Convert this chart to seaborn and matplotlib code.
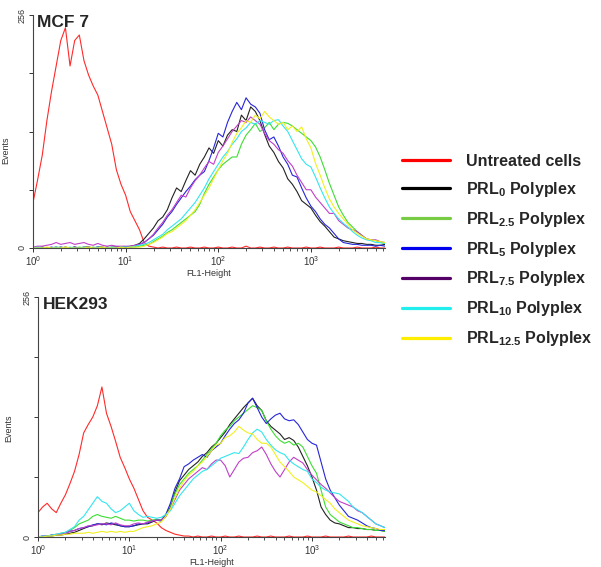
import numpy as np
import pandas as pd
import matplotlib
matplotlib.use("Agg")
import matplotlib.pyplot as plt
import seaborn as sns
from matplotlib.lines import Line2D
from matplotlib.ticker import FixedLocator, LogLocator, NullFormatter

sns.set_style("ticks")
plt.rcParams['font.family'] = ['Liberation Sans', 'DejaVu Sans']
plt.rcParams['mathtext.fontset'] = 'custom'
plt.rcParams['mathtext.rm'] = 'Liberation Sans'
plt.rcParams['mathtext.bf'] = 'Liberation Sans:bold'

# ---- data: log10(FL1-Height) channel positions ----
log_fl1 = [0.00, 0.05, 0.10, 0.15, 0.20, 0.25, 0.30, 0.35, 0.40, 0.45,
           0.50, 0.55, 0.60, 0.65, 0.70, 0.75, 0.80, 0.85, 0.90, 0.95,
           1.00, 1.05, 1.10, 1.15, 1.20, 1.25, 1.30, 1.35, 1.40, 1.45,
           1.50, 1.55, 1.60, 1.65, 1.70, 1.75, 1.80, 1.85, 1.90, 1.95,
           2.00, 2.05, 2.10, 2.15, 2.20, 2.25, 2.30, 2.35, 2.40, 2.45,
           2.50, 2.55, 2.60, 2.65, 2.70, 2.75, 2.80, 2.85, 2.90, 2.95,
           3.00, 3.05, 3.10, 3.15, 3.20, 3.25, 3.30, 3.35, 3.40, 3.45,
           3.50, 3.55, 3.60, 3.65, 3.70, 3.75, 3.80]

series_names = ["Untreated cells", "PRL0", "PRL2.5", "PRL5", "PRL7.5", "PRL10", "PRL12.5"]

# MCF 7 panel (events)
mcf_untreated = [50, 75, 102, 140, 172, 200, 228, 242, 200, 228,
                 234, 206, 190, 178, 168, 150, 132, 114, 86, 70,
                 58, 40, 30, 20, 6, 2, 1, 0, 1, 0,
                 0, 1, 0, 0, 1, 0, 0, 1, 0, 0,
                 1, 0, 0, 1, 0, 0, 2, 0, 0, 1,
                 0, 0, 1, 0, 0, 1, 0, 0, 0, 1,
                 0, 0, 1, 0, 0, 0, 1, 0, 0, 0,
                 1, 0, 0, 0, 1, 0, 0]
mcf_prl0 = [0, 0, 1, 0, 0, 1, 0, 1, 0, 1,
            0, 1, 1, 0, 1, 1, 0, 1, 1, 1,
            1, 2, 3, 5, 10, 16, 22, 30, 34, 42,
            55, 66, 62, 74, 85, 80, 92, 100, 110, 104,
            118, 112, 124, 130, 128, 146, 140, 155, 150, 140,
            125, 112, 105, 95, 88, 76, 70, 62, 52, 48,
            44, 36, 29, 24, 18, 12, 10, 8, 7, 6,
            5, 5, 4, 4, 3, 3, 4]
mcf_prl2_5 = [0, 0, 1, 0, 0, 0, 1, 0, 0, 0,
              1, 0, 0, 1, 0, 0, 1, 0, 0, 1,
              0, 1, 1, 2, 3, 4, 7, 10, 13, 17,
              20, 24, 28, 32, 36, 40, 48, 60, 70, 78,
              86, 92, 96, 100, 100, 114, 124, 130, 137, 128,
              132, 138, 130, 136, 138, 137, 134, 130, 126, 122,
              118, 111, 100, 86, 71, 58, 45, 36, 28, 23,
              18, 14, 10, 9, 8, 6, 5]
mcf_prl5 = [0, 1, 0, 0, 1, 0, 1, 0, 0, 1,
            0, 0, 1, 0, 1, 0, 1, 0, 1, 1,
            1, 1, 2, 4, 6, 10, 14, 20, 26, 34,
            40, 48, 55, 62, 68, 75, 80, 84, 96, 110,
            126, 122, 138, 150, 160, 152, 165, 158, 155, 148,
            130, 119, 122, 112, 100, 92, 80, 78, 66, 55,
            46, 40, 32, 26, 22, 16, 10, 6, 5, 4,
            4, 3, 3, 3, 2, 3, 2]
mcf_prl7_5 = [1, 2, 2, 3, 4, 6, 4, 5, 6, 4,
              5, 6, 4, 3, 5, 3, 2, 3, 2, 2,
              2, 2, 3, 4, 6, 10, 15, 22, 28, 36,
              42, 50, 58, 56, 66, 74, 80, 88, 95, 92,
              105, 112, 120, 128, 134, 140, 138, 144, 140, 136,
              126, 118, 114, 108, 104, 96, 90, 80, 72, 64,
              64, 56, 50, 44, 38, 38, 30, 26, 22, 20,
              18, 14, 10, 9, 9, 7, 6]
mcf_prl10 = [0, 1, 0, 0, 0, 1, 0, 0, 1, 0,
             0, 1, 0, 0, 1, 0, 0, 1, 0, 1,
             1, 1, 2, 3, 4, 6, 9, 12, 15, 20,
             24, 28, 32, 38, 44, 50, 58, 66, 76, 84,
             92, 100, 106, 114, 120, 128, 132, 138, 136, 140,
             138, 136, 140, 141, 134, 128, 118, 108, 98, 92,
             89, 78, 66, 55, 45, 38, 32, 27, 23, 18,
             14, 11, 9, 8, 6, 6, 5]
mcf_prl12_5 = [0, 0, 0, 1, 0, 0, 0, 1, 0, 0,
               0, 0, 1, 0, 0, 1, 0, 0, 0, 1,
               0, 1, 1, 1, 2, 4, 6, 9, 12, 16,
               18, 22, 26, 30, 36, 42, 50, 58, 66, 76,
               86, 96, 104, 116, 126, 132, 140, 138, 146, 142,
               150, 144, 140, 136, 138, 130, 134, 128, 133, 120,
               110, 93, 80, 66, 54, 45, 38, 32, 26, 20,
               16, 13, 10, 9, 8, 7, 6]

# HEK293 panel (events)
hek_untreated = [26, 32, 36, 30, 26, 36, 45, 57, 70, 88,
                 111, 120, 128, 140, 160, 132, 118, 102, 85, 74,
                 62, 52, 40, 28, 21, 18, 15, 10, 7, 5,
                 3, 2, 1, 1, 0, 1, 0, 0, 1, 0,
                 0, 1, 0, 0, 1, 0, 0, 0, 1, 0,
                 0, 1, 0, 0, 0, 1, 0, 0, 0, 1,
                 0, 0, 0, 1, 0, 0, 0, 0, 1, 0,
                 0, 0, 0, 1, 0, 0, 0]
hek_prl0 = [0, 0, 1, 1, 2, 2, 3, 4, 5, 7,
            9, 11, 12, 14, 13, 15, 14, 13, 12, 11,
            11, 12, 13, 14, 14, 16, 18, 17, 22, 32,
            48, 60, 66, 72, 76, 80, 86, 90, 96, 100,
            106, 112, 120, 126, 132, 138, 143, 148, 140, 135,
            124, 118, 114, 110, 104, 106, 103, 96, 86, 76,
            64, 50, 32, 24, 18, 15, 14, 12, 10, 10,
            9, 9, 8, 8, 7, 7, 6]
hek_prl2_5 = [0, 0, 1, 2, 2, 4, 5, 7, 10, 14,
              16, 18, 22, 24, 22, 21, 20, 22, 20, 18,
              18, 17, 18, 18, 17, 18, 19, 18, 24, 34,
              46, 56, 62, 68, 72, 76, 82, 88, 94, 100,
              108, 114, 118, 124, 128, 132, 136, 140, 138, 135,
              124, 115, 108, 103, 100, 102, 98, 100, 96, 86,
              76, 68, 50, 32, 24, 20, 16, 14, 12, 10,
              10, 9, 8, 8, 7, 7, 6]
hek_prl5 = [0, 1, 1, 2, 2, 3, 4, 6, 7, 9,
            10, 11, 13, 14, 14, 13, 15, 14, 12, 11,
            11, 12, 14, 14, 15, 17, 18, 18, 24, 36,
            52, 62, 75, 78, 82, 85, 88, 85, 92, 96,
            100, 108, 115, 121, 125, 132, 143, 148, 138, 128,
            121, 126, 130, 132, 126, 124, 125, 120, 112, 104,
            100, 98, 80, 62, 50, 42, 34, 28, 22, 20,
            18, 15, 12, 10, 9, 7, 7]
hek_prl7_5 = [0, 1, 1, 2, 3, 3, 4, 6, 7, 9,
              10, 12, 12, 13, 14, 14, 13, 15, 13, 12,
              12, 14, 15, 14, 16, 17, 18, 18, 22, 30,
              40, 50, 56, 62, 66, 70, 74, 72, 78, 82,
              82, 76, 64, 72, 80, 84, 85, 90, 92, 96,
              88, 78, 70, 64, 72, 80, 85, 82, 79, 72,
              66, 61, 56, 52, 47, 42, 38, 36, 34, 32,
              28, 26, 22, 18, 14, 12, 10]
hek_prl10 = [0, 1, 1, 2, 3, 4, 5, 8, 11, 18,
             22, 29, 36, 43, 38, 36, 30, 26, 28, 32,
             36, 28, 24, 21, 22, 21, 20, 21, 24, 28,
             36, 44, 50, 56, 62, 66, 70, 72, 76, 80,
             84, 86, 88, 90, 89, 96, 104, 111, 115, 112,
             104, 98, 93, 90, 88, 82, 78, 75, 72, 70,
             62, 58, 53, 50, 48, 47, 46, 42, 38, 32,
             29, 26, 22, 18, 14, 12, 10]
hek_prl12_5 = [0, 0, 1, 1, 2, 2, 3, 3, 4, 4,
               4, 5, 4, 5, 6, 5, 6, 5, 6, 5,
               6, 6, 8, 10, 11, 12, 14, 16, 22, 30,
               42, 52, 60, 66, 70, 76, 80, 86, 92, 98,
               100, 106, 108, 112, 118, 114, 111, 110, 104, 100,
               100, 96, 88, 80, 75, 70, 64, 61, 58, 54,
               50, 48, 44, 40, 36, 30, 26, 22, 18, 16,
               14, 12, 11, 10, 9, 8, 8]

panels = [
    ("MCF 7", [mcf_untreated, mcf_prl0, mcf_prl2_5, mcf_prl5, mcf_prl7_5, mcf_prl10, mcf_prl12_5]),
    ("HEK293", [hek_untreated, hek_prl0, hek_prl2_5, hek_prl5, hek_prl7_5, hek_prl10, hek_prl12_5]),
]

line_colors = ["#ff2a2a", "#222222", "#3ddd33", "#2626d9", "#c040c8", "#33e6ee", "#f0f020"]
legend_colors = ["#ff0000", "#000000", "#77cc44", "#0000ee", "#550066", "#22eeee", "#ffee00"]
legend_labels = ["Untreated cells",
                 r"PRL$_{\mathbf{0}}$ Polyplex",
                 r"PRL$_{\mathbf{2.5}}$ Polyplex",
                 r"PRL$_{\mathbf{5}}$ Polyplex",
                 r"PRL$_{\mathbf{7.5}}$ Polyplex",
                 r"PRL$_{\mathbf{10}}$ Polyplex",
                 r"PRL$_{\mathbf{12.5}}$ Polyplex"]

W, H = 601, 567
fig = plt.figure(figsize=(W / 100, H / 100), dpi=100)

# axes rectangles in pixel coords: left, top, right, bottom
rects = [(33, 15, 385, 248), (38, 297, 385, 537)]
label_pos = [((10 - 33) / 352, (248 - 150) / 233), ((13 - 38) / 347, (537 - 428) / 240)]
title_off = [4, 5]

for (title, curves), (l, t, r, b), lp, toff in zip(panels, rects, label_pos, title_off):
    ax = fig.add_axes([l / W, 1 - b / H, (r - l) / W, (b - t) / H])
    rows = []
    for name, vals in zip(series_names, curves):
        for lx, v in zip(log_fl1, vals):
            rows.append({"fl1": 10 ** lx, "events": v, "sample": name})
    df = pd.DataFrame(rows)
    sns.lineplot(data=df, x="fl1", y="events", hue="sample", hue_order=series_names,
                 palette=line_colors, linewidth=0.8, legend=False, ax=ax, estimator=None,
                 sort=True)
    ax.set_xscale("log")
    ax.set_xlim(1, 10 ** 3.8)
    ax.set_ylim(0, 256)
    ax.set_yticks([0, 64, 128, 192, 256])
    ax.set_yticklabels(["0", "", "", "", "256"], rotation=90, va="center", fontsize=6.5)
    ax.xaxis.set_major_locator(FixedLocator([1, 10, 100, 1000]))
    ax.set_xticklabels([r"$10^0$", r"$10^1$", r"$10^2$", r"$10^3$"], fontsize=7)
    ax.xaxis.set_minor_locator(LogLocator(base=10, subs=np.arange(2, 10)))
    ax.xaxis.set_minor_formatter(NullFormatter())
    ax.tick_params(axis="both", which="major", length=3, width=0.7, pad=1.5, colors="#333333")
    ax.tick_params(axis="x", which="minor", length=2, width=0.6, colors="#333333")
    for s in ["top", "right"]:
        ax.spines[s].set_visible(False)
    for s in ["left", "bottom"]:
        ax.spines[s].set_linewidth(0.8)
        ax.spines[s].set_color("#444444")
    ax.set_xlabel("FL1-Height", fontsize=6.5, labelpad=1, color="#333333")
    ax.set_ylabel("Events", fontsize=6.5, color="#333333")
    ax.yaxis.set_label_coords(lp[0], lp[1])
    ax.text(toff / (r - l), 1.0, title, transform=ax.transAxes, ha="left", va="top",
            fontsize=12.5, fontweight="bold")

handles = [Line2D([0], [0], color=c, lw=2.3) for c in legend_colors]
fig.legend(handles, legend_labels, loc="upper left", bbox_to_anchor=(402 / W, 1 - 154 / H),
           frameon=False, prop={"weight": "bold", "size": 11.5}, handlelength=3.0,
           handletextpad=1.0, labelspacing=0.68, borderpad=0, borderaxespad=0)

fig.savefig("out.png", dpi=100)
